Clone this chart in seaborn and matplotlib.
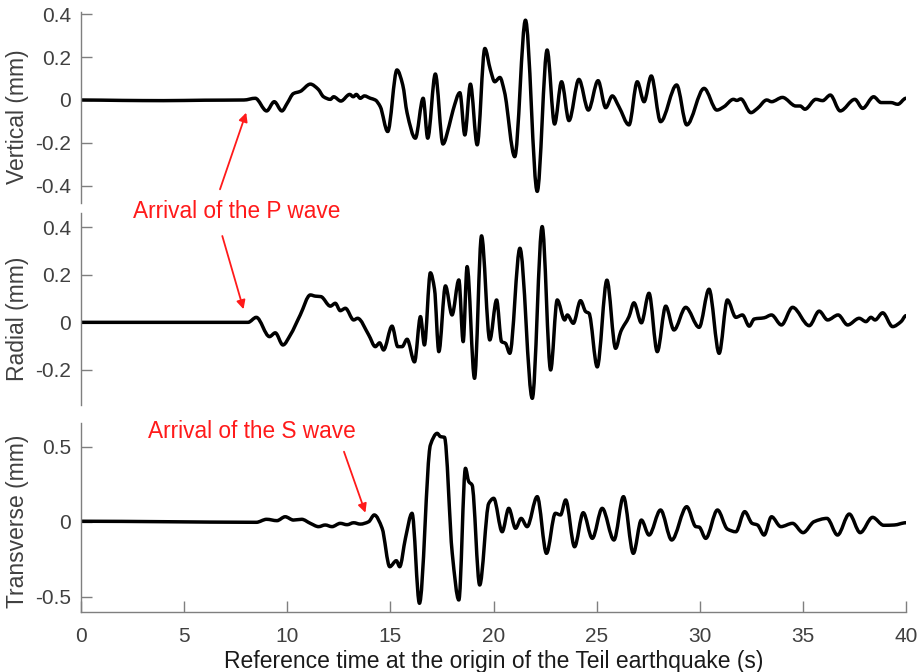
import matplotlib
matplotlib.use("Agg")
import matplotlib.pyplot as plt
from matplotlib.path import Path
from matplotlib.patches import PathPatch
import numpy as np
import seaborn as sns
import pandas as pd

# Ground displacement recorded during the Teil earthquake (mm), per component
vert_t = [0, 2, 4, 6, 7.9, 8.45, 9.0, 9.37, 9.74, 10.0,
          10.3, 10.63, 11.12, 11.5, 11.76, 12.09, 12.25, 12.6, 13.03, 13.2,
          13.35, 13.54, 13.74, 14.03, 14.27, 14.51, 14.87, 15.32, 15.6, 15.81,
          16.21, 16.59, 16.81, 17.18, 17.55, 17.85, 18.04, 18.37, 18.61, 18.88,
          19.21, 19.58, 19.85, 20.06, 20.31, 20.53, 21.03, 21.55, 22.12, 22.6,
          22.96, 23.3, 23.66, 24.14, 24.6, 25.07, 25.44, 25.76, 26.08, 26.57,
          26.97, 27.3, 27.65, 28.1, 28.88, 29.37, 30.21, 30.83, 31.18, 31.63,
          31.8, 31.99, 32.48, 32.8, 33.25, 33.48, 34.01, 34.66, 34.87, 35.1,
          35.63, 35.96, 36.33, 36.81, 37.52, 37.9, 38.43, 38.79, 39.27, 39.6,
          40.0]
vert_mm = [0, -0.002, -0.003, -0.001, 0.0, 0.008, -0.051, -0.008, -0.051, -0.015,
           0.03, 0.04, 0.074, 0.05, 0.015, 0.003, 0.015, -0.005, 0.026, 0.015,
           0.026, 0.008, 0.019, 0.008, 0.0, -0.031, -0.147, 0.14, 0.07, -0.06,
           -0.178, 0.008, -0.178, 0.121, -0.205, -0.12, -0.047, 0.034, -0.163, 0.074,
           -0.209, 0.24, 0.14, 0.085, 0.105, 0.039, -0.264, 0.372, -0.426, 0.233,
           -0.112, 0.085, -0.096, 0.096, -0.047, 0.09, -0.036, 0.019, -0.031, -0.116,
           0.085, -0.008, 0.112, -0.101, 0.07, -0.116, 0.054, -0.047, -0.031, 0.003,
           -0.002, 0.005, -0.059, -0.039, 0.0, -0.008, 0.012, -0.028, -0.028, -0.043,
           0.003, -0.003, 0.023, -0.051, 0.003, -0.039, 0.015, -0.012, -0.012, -0.02,
           0.008]

rad_t = [0, 3, 6, 8.1, 8.5, 9.14, 9.42, 9.79, 10.15, 10.63,
         11.12, 11.36, 11.63, 12.09, 12.33, 12.57, 12.82, 13.22, 13.41, 13.95,
         14.27, 14.48, 14.67, 15.08, 15.36, 15.57, 15.81, 16.17, 16.46, 16.65,
         16.94, 17.14, 17.35, 17.67, 17.99, 18.32, 18.53, 18.72, 19.08, 19.42,
         19.82, 20.15, 20.39, 20.58, 20.79, 21.28, 21.88, 22.36, 22.77, 23.09,
         23.45, 23.58, 23.87, 24.22, 24.47, 24.63, 25.03, 25.5, 25.92, 26.17,
         26.57, 26.81, 27.17, 27.54, 27.94, 28.35, 28.75, 29.32, 29.97, 30.45,
         30.94, 31.34, 31.75, 32.07, 32.4, 32.64, 33.12, 33.48, 33.96, 34.5,
         35.31, 35.79, 36.2, 36.71, 37.17, 37.73, 38.06, 38.3, 38.5, 38.87,
         39.35, 39.76, 40.0]
rad_mm = [0, 0, 0, 0.0, 0.021, -0.06, -0.044, -0.095, -0.053, 0.031,
          0.115, 0.11, 0.108, 0.068, 0.08, 0.049, 0.059, 0.01, 0.017, -0.053,
          -0.102, -0.086, -0.116, -0.016, -0.102, -0.102, -0.071, -0.166, 0.024, -0.095,
          0.208, 0.139, -0.123, 0.153, 0.031, 0.178, -0.081, 0.234, -0.235, 0.363,
          -0.074, 0.094, -0.081, -0.088, -0.13, 0.311, -0.319, 0.402, -0.2, 0.094,
          0.01, 0.031, -0.004, 0.091, 0.045, 0.038, -0.187, 0.177, -0.109, -0.039,
          0.024, 0.082, -0.002, 0.122, -0.123, 0.068, -0.032, 0.063, -0.021, 0.139,
          -0.13, 0.094, 0.021, 0.031, -0.016, 0.014, 0.019, 0.031, -0.011, 0.063,
          -0.014, 0.047, 0.01, 0.031, -0.011, 0.017, 0.003, 0.021, 0.01, 0.04,
          -0.018, 0.003, 0.028]

trans_t = [0, 4, 8.5, 9.0, 9.5, 9.9, 10.3, 10.7, 11.12, 11.52,
           11.84, 12.17, 12.57, 12.9, 13.22, 13.54, 13.95, 14.22, 14.6, 14.97,
           15.29, 15.45, 15.73, 16.05, 16.41, 16.94, 17.27, 17.43, 17.62, 18.0,
           18.32, 18.64, 18.8, 18.96, 19.33, 19.77, 20.01, 20.42, 20.74, 21.07,
           21.34, 21.63, 22.12, 22.57, 23.0, 23.25, 23.5, 23.93, 24.35, 24.79,
           25.27, 25.84, 26.3, 26.78, 27.17, 27.54, 28.1, 28.64, 29.37, 29.81,
           29.97, 30.29, 30.86, 31.34, 31.75, 32.18, 32.54, 32.8, 33.12, 33.48,
           33.93, 34.5, 35.01, 35.54, 36.17, 36.68, 37.25, 37.78, 38.38, 38.92,
           39.43, 40.0]
trans_mm = [0.003, 0.0, -0.004, 0.016, 0.007, 0.033, 0.011, 0.016, -0.011, -0.033,
            -0.022, -0.033, -0.011, -0.02, -0.007, -0.016, 0.0, 0.045, -0.044, -0.3,
            -0.26, -0.3, -0.111, 0.056, -0.544, 0.511, 0.589, 0.567, 0.563, -0.211,
            -0.522, 0.356, 0.267, 0.245, -0.422, 0.122, 0.156, -0.067, 0.089, -0.044,
            0.022, -0.033, 0.167, -0.211, 0.056, 0.045, 0.145, -0.167, 0.06, -0.111,
            0.089, -0.122, 0.167, -0.211, 0.011, -0.089, 0.078, -0.122, 0.1, -0.033,
            -0.036, -0.111, 0.078, -0.049, -0.067, 0.067, -0.011, -0.022, -0.089, 0.033,
            -0.033, -0.011, -0.073, 0.0, 0.022, -0.089, 0.051, -0.073, 0.029, -0.024,
            -0.022, -0.007]

channel_labels = ["Vertical (mm)", "Radial (mm)", "Transverse (mm)"]
channel_ylims = [(-0.48, 0.41), (-0.347, 0.459), (-0.6, 0.66)]
channel_yticks = [[-0.4, -0.2, 0, 0.2, 0.4], [-0.2, 0, 0.2, 0.4], [-0.5, 0, 0.5]]
channel_yticklabels = [["-0.4", "-0.2", "0", "0.2", "0.4"],
                       ["-0.2", "0", "0.2", "0.4"],
                       ["-0.5", "0", "0.5"]]
xticks = [0, 5, 10, 15, 20, 25, 30, 35, 40]
xlabel = "Reference time at the origin of the Teil earthquake (s)"
p_label = "Arrival of the P wave"
s_label = "Arrival of the S wave"


def smooth_trace_path(xy):
    """Bezier path passing through every sample, with flat tangents at the
    turning points (monotone cubic Hermite segments, drawn as curves)."""
    x, y = xy[:, 0], xy[:, 1]
    h = np.diff(x)
    d = np.diff(y) / h
    m = np.zeros_like(y)
    for k in range(1, len(y) - 1):
        if d[k - 1] * d[k] > 0:
            w1 = 2 * h[k] + h[k - 1]
            w2 = h[k] + 2 * h[k - 1]
            m[k] = (w1 + w2) / (w1 / d[k - 1] + w2 / d[k])
    verts = [(x[0], y[0])]
    codes = [Path.MOVETO]
    for k in range(len(x) - 1):
        verts += [(x[k] + h[k] / 3, y[k] + m[k] * h[k] / 3),
                  (x[k + 1] - h[k] / 3, y[k + 1] - m[k + 1] * h[k] / 3),
                  (x[k + 1], y[k + 1])]
        codes += [Path.CURVE4] * 3
    return Path(verts, codes)


sns.set_theme(style="white")
plt.rcParams["font.family"] = ["Liberation Sans", "DejaVu Sans"]
plt.rcParams["axes.unicode_minus"] = False

W, H = 921, 672
fig = plt.figure(figsize=(W / 100, H / 100), dpi=100)

# panel boxes in pixels: (top, bottom)
panel_px = [(12, 203), (213, 405), (422.7, 611.7)]
left_px, right_px = 81, 906

spine_grey = "#7f7f7f"
text_grey = "#404040"

series = [(vert_t, vert_mm), (rad_t, rad_mm), (trans_t, trans_mm)]
label_y = [0.452, 0.448, 0.476]
axes = []
for i, ((top, bot), (tt, vv)) in enumerate(zip(panel_px, series)):
    ax = fig.add_axes([left_px / W, 1 - bot / H, (right_px - left_px) / W, (bot - top) / H])
    df = pd.DataFrame({"t": tt, "mm": vv})
    sns.lineplot(data=df, x="t", y="mm", ax=ax, color="black", linewidth=2.5,
                 sort=False, estimator=None)
    # render the seismogram as a smooth curve through the plotted samples
    line = ax.lines[-1]
    trace = PathPatch(smooth_trace_path(line.get_xydata()), facecolor="none",
                      edgecolor="black", linewidth=2.5, joinstyle="round",
                      capstyle="round", transform=ax.transData)
    ax.add_patch(trace)
    line.set_visible(False)
    ax.set_xlim(0, 40)
    ax.set_ylim(*channel_ylims[i])
    ax.set_yticks(channel_yticks[i])
    ax.set_yticklabels(channel_yticklabels[i])
    for s in ("top", "right"):
        ax.spines[s].set_visible(False)
    ax.spines["left"].set_color(spine_grey)
    ax.spines["left"].set_linewidth(1.0)
    ax.tick_params(axis="y", direction="in", length=8, width=1.0, color=spine_grey,
                   labelsize=15, labelcolor=text_grey, pad=7, left=True)
    ax.set_ylabel(channel_labels[i], fontsize=16.5, color=text_grey)
    ax.yaxis.set_label_coords(-0.063, label_y[i])
    if i < 2:
        ax.spines["bottom"].set_visible(False)
        ax.set_xticks([])
        ax.set_xlabel("")
    else:
        ax.spines["bottom"].set_color(spine_grey)
        ax.spines["bottom"].set_linewidth(1.0)
        ax.set_xticks(xticks)
        ax.set_xticklabels([str(x) for x in xticks])
        ax.tick_params(axis="x", direction="in", length=8, width=1.0, color=spine_grey,
                       labelsize=15, labelcolor=text_grey, pad=11, bottom=True)
        ax.set_xlabel(xlabel, fontsize=16.5, color="#1a1a1a", labelpad=3)
    ax.patch.set_alpha(0)
    axes.append(ax)

# arrival annotations
red = "#ff1a1a"
fig.text(237 / W, 1 - 212 / H, p_label, color=red, fontsize=16.3, ha="center", va="center")
fig.text(252 / W, 1 - 432 / H, s_label, color=red, fontsize=16.3, ha="center", va="center")

arrow_kw = dict(arrowstyle="-|>", color=red, lw=1.3, mutation_scale=13,
                shrinkA=0, shrinkB=0)
arrows = [
    (axes[0], (8.01, -0.059), (220, 189.3)),
    (axes[1], (7.88, 0.055), (222.3, 236)),
    (axes[2], (13.79, 0.06), (344, 451.7)),
]
for ax, tip, tail in arrows:
    ax.annotate("", xy=tip, xycoords="data",
                xytext=(tail[0] / W, 1 - tail[1] / H), textcoords="figure fraction",
                arrowprops=arrow_kw, annotation_clip=False)

fig.savefig("out.png", dpi=100)
